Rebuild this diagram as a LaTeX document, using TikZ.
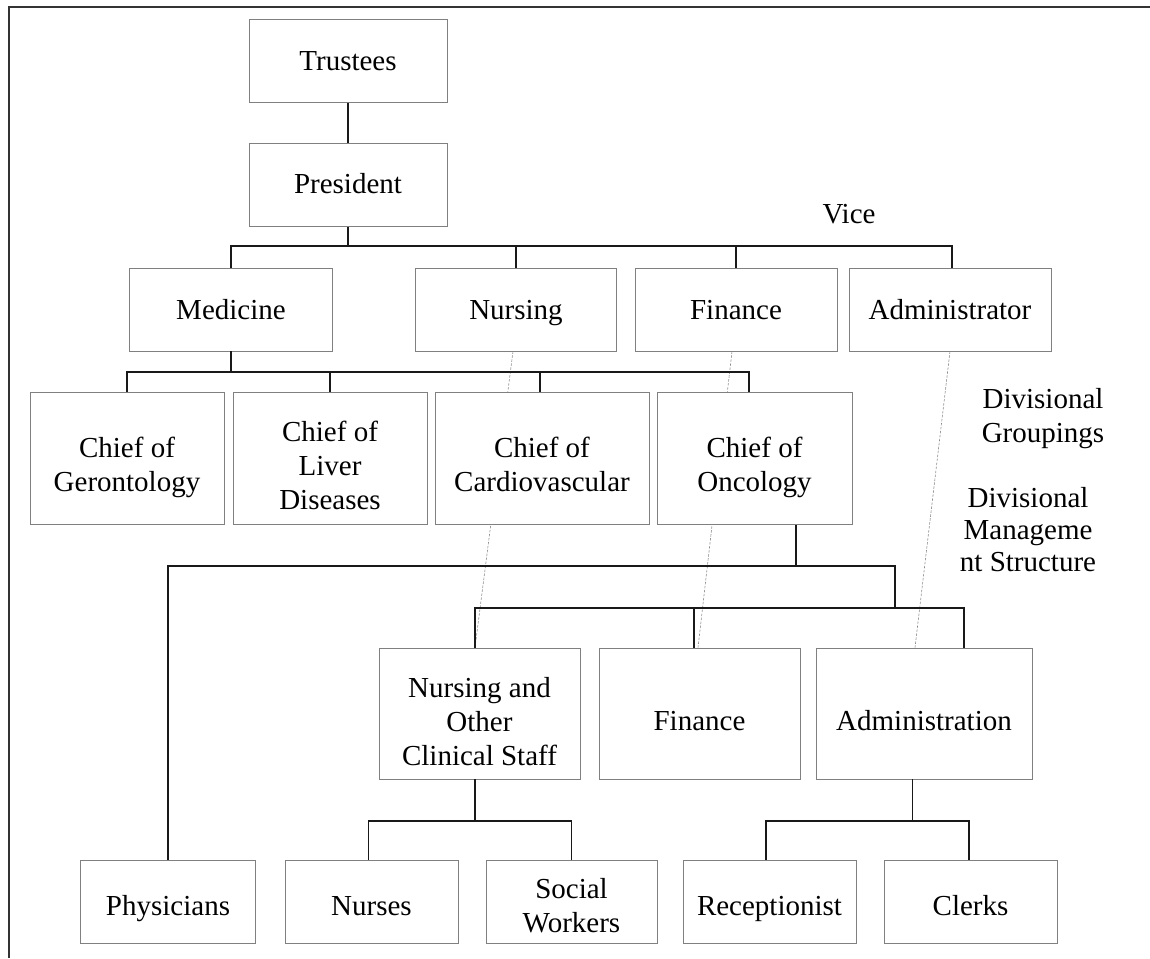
\documentclass[tikz,border=0pt]{standalone}
\usepackage{fontspec}
\setmainfont{Liberation Serif}
\newcommand\chartfont{\fontsize{29}{34}\selectfont}
\newcommand\notefont{\fontsize{29}{34}\selectfont}
\newcommand\tightfont{\fontsize{29}{32}\selectfont}
\pgfdeclarelayer{bg}
\pgfsetlayers{bg,main}
\tikzset{
  box/.style={draw=black!50, line width=0.8pt, fill=white, inner sep=0pt},
  lbl/.style={inner sep=0pt, align=center, font=\chartfont},
  % text of a box: downward offset, then the lines (each with a strut)
  txt/.style 2 args={label={[lbl, yshift=-#1]center:{#2}}},
  conn/.style={draw=black!90, line width=1.6pt},
  link/.style={draw=black!45, line width=0.6pt, dash pattern=on 2.5pt off 1.5pt},
  frame/.style={draw=black!80, line width=1.6pt},
  note/.style={inner sep=0pt, font=\notefont},
  small/.style={minimum width=#1, minimum height=83pt},
  tall/.style={minimum width=#1, minimum height=131pt},
}
\begin{document}
\begin{tikzpicture}[x=1pt, y=-1pt]
\useasboundingbox (0,0) rectangle (1150,958);

% frame edges
\draw[frame] (1150,7) -- (9,7) -- (9,958);

% top of the hierarchy
\node[box, small=198pt, txt={3pt}{\strut Trustees}]  (tru)  at (348,61)  {};
\node[box, small=198pt, txt={2pt}{\strut President}] (pres) at (348,185) {};

% vice presidents
\node[box, small=203pt, txt={3pt}{\strut Medicine}]      (med) at (231,309.5) {};
\node[box, small=201pt, txt={3pt}{\strut Nursing}]       (nur) at (516,309.5) {};
\node[box, small=202pt, txt={3pt}{\strut Finance}]       (fin) at (736,309.5) {};
\node[box, small=202pt, txt={3pt}{\strut Administrator}] (adm) at (950,309.5) {};

% chiefs of the divisions
\node[box, tall=194pt, minimum height=132pt,
      txt={9pt}{\strut Chief of\\\strut Gerontology}] (ger) at (127,458.5) {};
\node[box, tall=194pt, minimum height=132pt,
      txt={10pt}{\strut Chief of\\\strut Liver\\\strut Diseases}] (liv) at (330,458.5) {};
\node[box, tall=214pt, minimum height=132pt,
      txt={9pt}{\strut Chief of\\\strut Cardiovascular}] (car) at (542,458.5) {};
\node[box, tall=195pt, minimum height=132pt,
      txt={9pt}{\strut Chief of\\\strut Oncology}] (onc) at (754.5,458.5) {};

% divisional management
\node[box, tall=201pt,
      txt={11pt}{\strut Nursing and\\\strut Other\\\strut Clinical Staff}] (nos) at (479.5,713.5) {};
\node[box, tall=201pt, txt={10pt}{\strut Finance}]        (fin2) at (699.5,713.5) {};
\node[box, tall=216pt, txt={10pt}{\strut Administration}] (admn) at (924,713.5) {};

% staff
\node[box, small=175pt, txt={7pt}{\strut Physicians}]               (phys) at (168,901.5) {};
\node[box, small=173pt, txt={7pt}{\strut Nurses}]                   (nrs)  at (371.5,901.5) {};
\node[box, small=171pt, txt={7pt}{\strut Social\\\strut Workers}]   (soc)  at (571.5,901.5) {};
\node[box, small=173pt, txt={7pt}{\strut Receptionist}]             (rec)  at (769.5,901.5) {};
\node[box, small=173pt, txt={7pt}{\strut Clerks}]                   (clk)  at (970.5,901.5) {};

% side notes
\node[note, anchor=base] (vice) at (849,223) {Vice};
\node[note, anchor=base] (grp) at (1043,408)
  {\begin{tabular}[t]{@{}c@{}}Divisional\\Groupings\end{tabular}};
\begin{scope}
  \clip (900,470) rectangle (1150,572);
  \node[note, font=\tightfont, anchor=base] (mgmt) at (1028,507)
    {\begin{tabular}[t]{@{}c@{}}Divisional\\Manageme\\nt Structure\end{tabular}};
\end{scope}

% bus levels
\coordinate (vpbus) at (0,246);
\coordinate (chbus) at (0,372);
\coordinate (obus)  at (0,566);
\coordinate (sbus)  at (0,608);
\coordinate (jog)   at (895,0);
\coordinate (bbus)  at (0,821);

% solid reporting lines
\draw[conn] (tru.south) -- (pres.north);
\draw[conn] (pres.south) -- (pres.south |- vpbus);
\draw[conn] (med.north) -- (med.north |- vpbus) -| ([xshift=2pt]adm.north);
\draw[conn] (nur.north) -- (nur.north |- vpbus);
\draw[conn] (fin.north) -- (fin.north |- vpbus);

\draw[conn] (med.south) -- (med.south |- chbus);
\draw[conn] (ger.north) -- (ger.north |- chbus) -| ([xshift=-5.5pt]onc.north);
\draw[conn] (liv.north) -- (liv.north |- chbus);
\draw[conn] ([xshift=-2pt]car.north) -- ([xshift=-2pt]car.north |- chbus);

\draw[conn] ([xshift=41.5pt]onc.south) -- ([xshift=41.5pt]onc.south |- obus);
\draw[conn] (phys.north) -- (phys.north |- obus) -| (jog |- sbus);
\draw[conn] ([xshift=-4.5pt]nos.north) -- ([xshift=-4.5pt]nos.north |- sbus)
            -| ([xshift=40pt]admn.north);
\draw[conn] ([xshift=-5.5pt]fin2.north) -- ([xshift=-5.5pt]fin2.north |- sbus);

\draw[conn] ([xshift=-4.5pt]nos.south) -- ([xshift=-4.5pt]nos.south |- bbus);
\draw[conn] ([xshift=-3pt]nrs.north) -- ([xshift=-3pt]nrs.north |- bbus) -| (soc.north);
\draw[conn] ([xshift=-11.5pt]admn.south) -- ([xshift=-11.5pt]admn.south |- bbus);
\draw[conn] ([xshift=-3.5pt]rec.north) -- ([xshift=-3.5pt]rec.north |- bbus) -| ([xshift=-1.5pt]clk.north);

% dotted functional links, behind the boxes
\begin{pgfonlayer}{bg}
  \draw[link] ([xshift=-3pt]nur.south) -- ([xshift=-4.5pt]nos.north);
  \draw[link] ([xshift=-4pt]fin.south) -- ([xshift=-1.5pt]fin2.north);
  \draw[link] (adm.south) -- ([xshift=-9pt]admn.north);
\end{pgfonlayer}
\end{tikzpicture}
\end{document}
